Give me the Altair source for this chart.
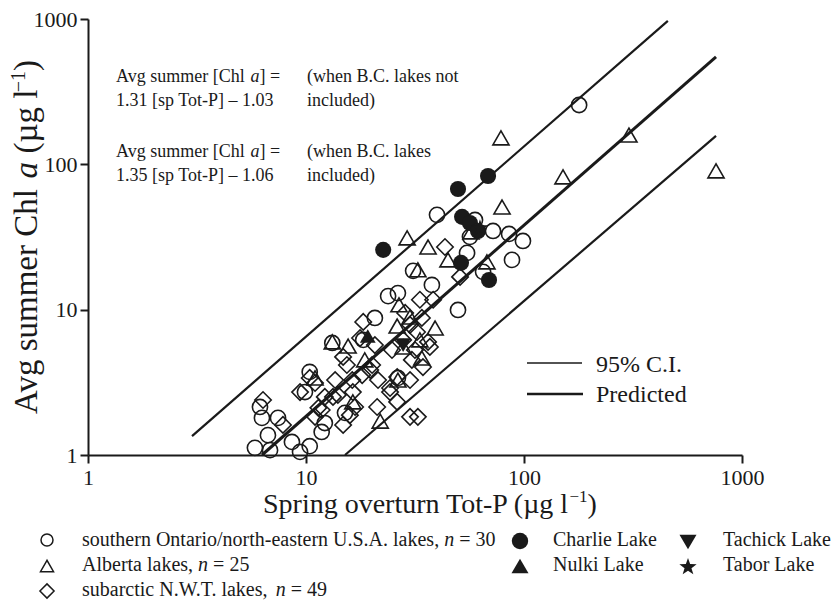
import altair as alt
import pandas as pd

SERIF = "Liberation Serif"
INK = "#1a1a1a"

# plot-area geometry on the page (pixels)
OX, OY = 88, 19
W, H = 654, 436

# ---------------------------------------------------------------------------
# Spring overturn total P (ug/L) and average summer chlorophyll a (ug/L)
# ---------------------------------------------------------------------------
# southern Ontario / north-eastern U.S.A. lakes
ont_tp = [179, 39.9, 59.6, 72.1, 85.4, 98.9, 56.5, 54.8, 88.1, 64.9,
          37.8, 31.0, 49.8, 20.7, 18.3, 13.2, 23.8, 26.4, 26.4, 15.1,
          12.2, 10.4, 9.89, 6.15, 6.28, 7.44, 6.69, 5.83, 6.84, 8.62,
          9.39, 10.4, 11.8]
ont_chl = [256, 44.9, 41.4, 34.8, 33.2, 29.7, 31.7, 24.6, 22.0, 18.2,
           14.8, 18.5, 9.95, 8.77, 6.19, 5.90, 12.4, 13.0, 3.39, 1.95,
           1.66, 3.73, 2.71, 2.14, 1.80, 1.80, 1.37, 1.12, 1.08, 1.23,
           1.05, 1.15, 1.44]

# Alberta lakes
alb_tp = [78.4, 303, 760, 151, 79.3, 29.1, 36.3, 44.8, 32.6, 67.6,
          26.7, 39.1, 15.6, 26.2, 30.0, 33.3, 34.0, 26.4, 21.9, 16.4,
          13.2, 27.9, 57.1, 11.0, 18.6]
alb_chl = [152, 159, 90.1, 81.9, 50.9, 31.2, 27.0, 22.0, 18.8, 21.3,
           10.8, 7.48, 5.62, 7.72, 8.91, 6.19, 4.65, 3.28, 1.71, 2.32,
           6.0, 5.54, 34.3, 3.39, 4.51]

# subarctic N.W.T. lakes
nwt_tp = [6.35, 18.3, 33.3, 38.3, 30.0, 30.6, 34.4, 15.4, 20.1, 21.4,
          18.1, 16.3, 13.6, 13.3, 16.4, 16.8, 24.3, 26.2, 21.2, 26.2,
          30.0, 14.8, 30.0, 32.6, 24.8, 27.9, 31.6, 37.0, 10.4, 11.0,
          11.8, 11.0, 7.84, 12.2, 14.0, 19.7, 11.4, 24.3, 28.5, 34.0,
          14.8, 15.9, 32.3, 36.3, 43.4, 50.9, 20.7, 17.7, 9.39]
nwt_chl = [2.39, 8.23, 11.7, 11.7, 7.85, 4.51, 4.03, 4.16, 4.16, 3.28,
           3.55, 3.28, 3.28, 2.51, 2.71, 2.14, 2.71, 2.32, 2.14, 3.44,
           3.28, 1.61, 1.83, 1.83, 5.28, 6.19, 5.28, 5.54, 3.39, 3.13,
           2.04, 1.83, 1.61, 2.51, 2.59, 3.85, 2.11, 2.89, 9.49, 8.77,
           4.73, 1.88, 7.02, 6.0, 27.0, 16.8, 5.71, 6.38, 2.71]

# British Columbia lakes
charlie_tp = [22.6, 49.8, 68.4, 52.0, 56.5, 61.5, 51.4, 69.1]
charlie_chl = [25.8, 67.7, 83.2, 43.5, 39.5, 34.8, 21.0, 16.0]
nulki_tp, nulki_chl = [19.2], [6.59]
tachick_tp, tachick_chl = [27.9], [5.71]
tabor_tp, tabor_chl = [62.8], [36.5]

# regression line and 95% confidence limits (end points)
line_name = ["upper", "upper", "pred", "pred", "lower", "lower"]
line_tp = [3.0, 457, 6.28, 760, 15.1, 760]
line_chl = [1.35, 970, 1.0, 548, 1.0, 157]

# ---------------------------------------------------------------------------
STAR = ("M0,-1L0.235,-0.324L0.951,-0.309L0.38,0.124L0.588,0.809L0,0.4"
        "L-0.588,0.809L-0.38,0.124L-0.951,-0.309L-0.235,-0.324Z")

xs = alt.Scale(type="log", domain=[1, 1000], nice=False)
ys = alt.Scale(type="log", domain=[1, 1000], nice=False)
xaxis = alt.Axis(values=[1, 10, 100, 1000], format="d", title=None,
                 labelFlush=False, labelPadding=4)
yaxis = alt.Axis(values=[1, 10, 100, 1000], format="d", title=None,
                 labelFlush=False, labelPadding=3)
X = alt.X("tp:Q", scale=xs, axis=xaxis)
Y = alt.Y("chl:Q", scale=ys, axis=yaxis)

lines_df = pd.DataFrame({"name": line_name, "tp": line_tp, "chl": line_chl})

ci_lines = alt.Chart(lines_df).transform_filter(
    alt.datum.name != "pred"
).mark_line(color=INK, strokeWidth=2.2).encode(x=X, y=Y, detail="name:N")

pred_line = alt.Chart(lines_df).transform_filter(
    alt.datum.name == "pred"
).mark_line(color=INK, strokeWidth=3).encode(x=X, y=Y)


def scatter(tp, chl, shape, size, filled):
    df = pd.DataFrame({"tp": tp, "chl": chl})
    return alt.Chart(df).mark_point(
        shape=shape, size=size, filled=filled, color=INK, opacity=1,
        strokeWidth=1.6,
    ).encode(x=X, y=Y)


ONE = pd.DataFrame({"k": [0]})


def label(s, px, py, fs, italic=False, angle=0):
    kw = dict(align="left", baseline="alphabetic", font=SERIF,
              fontSize=fs, color=INK)
    if italic:
        kw["fontStyle"] = "italic"
    if angle:
        kw["angle"] = angle
    return alt.Chart(ONE).mark_text(**kw).encode(
        x=alt.value(px - OX), y=alt.value(py - OY), text=alt.value(s))


def key(shape, px, py, size, filled):
    return alt.Chart(ONE).mark_point(
        shape=shape, size=size, filled=filled, color=INK, opacity=1,
        strokeWidth=1.5,
    ).encode(x=alt.value(px - OX), y=alt.value(py - OY))


def swatch(px1, px2, py, w):
    return alt.Chart(ONE).mark_rule(color=INK, strokeWidth=w).encode(
        x=alt.value(px1 - OX), x2=alt.value(px2 - OX), y=alt.value(py - OY))


layers = [
    ci_lines,
    pred_line,
    scatter(ont_tp, ont_chl, "circle", 230, False),
    scatter(alb_tp, alb_chl, "triangle-up", 260, False),
    scatter(nwt_tp, nwt_chl, "diamond", 270, False),
    scatter(charlie_tp, charlie_chl, "circle", 260, True),
    scatter(nulki_tp, nulki_chl, "triangle-up", 250, True),
    scatter(tachick_tp, tachick_chl, "triangle-down", 250, True),
    scatter(tabor_tp, tabor_chl, STAR, 300, True),
]

# regression equations
for top, coef in ((82, "1.31 [sp Tot-P] \u2013 1.03"),
                  (157, "1.35 [sp Tot-P] \u2013 1.06")):
    layers += [
        label("Avg summer [Chl", 116, top, 18),
        label("a", 250.5, top, 18, italic=True),
        label("] =", 259.5, top, 18),
        label(coef, 116, top + 24, 18),
    ]
layers += [
    label("(when B.C. lakes not", 307, 82, 18),
    label("included)", 307, 106, 18),
    label("(when B.C. lakes", 307, 157, 18),
    label("included)", 307, 181, 18),
]

# line key inside the plot
layers += [
    swatch(527, 582, 363, 1.6),
    swatch(527, 583, 394, 2.6),
    label("95% C.I.", 596, 372, 24),
    label("Predicted", 596, 402, 24),
]

# axis titles
layers += [
    label("Spring overturn Tot-P (\u00b5g l", 263, 513, 28),
    label("\u22121", 569.4, 502, 17),
    label(")", 587.5, 513, 28),
    label("Avg summer Chl", 37, 414, 33, angle=270),
    label("a", 37, 178.4, 33, italic=True, angle=270),
    label("(\u00b5g l", 37, 153.6, 33, angle=270),
    label("\u22121", 25, 92.2, 20, angle=270),
    label(")", 37, 71, 33, angle=270),
]

# symbol key below the plot
layers += [
    key("circle", 47, 540, 144, False),
    key("triangle-up", 47, 566, 170, False),
    key("diamond", 47, 591, 200, False),
    label("southern Ontario/north-eastern U.S.A. lakes,", 82, 546, 20),
    label("n", 444.2, 546, 20, italic=True),
    label("= 30", 459.2, 546, 20),
    label("Alberta lakes,", 82, 571, 20),
    label("n", 198.1, 571, 20, italic=True),
    label("= 25", 213.1, 571, 20),
    label("subarctic N.W.T. lakes,", 82, 596, 20),
    label("n", 275.8, 596, 20, italic=True),
    label("= 49", 290.8, 596, 20),
    key("circle", 520, 541, 270, True),
    key("triangle-up", 520, 566, 290, True),
    key("triangle-down", 688, 542, 290, True),
    key(STAR, 688, 567, 330, True),
    label("Charlie Lake", 553, 546, 20),
    label("Nulki Lake", 553, 571, 20),
    label("Tachick Lake", 723, 546, 20),
    label("Tabor Lake", 723, 571, 20),
]

chart = alt.layer(*layers).properties(
    width=W,
    height=H,
    padding={"left": OX, "top": OY, "right": 834 - OX - W, "bottom": 603 - OY - H},
    autosize=alt.AutoSizeParams(type="none"),
    background="white",
).configure_view(
    stroke=None
).configure_axis(
    domainColor=INK, domainWidth=2, tickColor=INK, tickWidth=2, tickSize=8,
    labelFont=SERIF, labelFontSize=22, labelColor=INK, grid=False,
)

chart.save("out.html", embed_options={"renderer": "svg", "actions": False})
